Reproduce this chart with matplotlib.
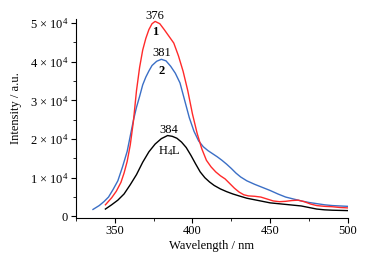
import matplotlib
matplotlib.use("Agg")
import matplotlib.pyplot as plt
from matplotlib.ticker import MultipleLocator

plt.rcParams['font.family'] = ['Liberation Serif', 'DejaVu Serif']
plt.rcParams['mathtext.fontset'] = 'custom'
plt.rcParams['mathtext.rm'] = 'Liberation Serif'
plt.rcParams['mathtext.it'] = 'Liberation Serif:italic'
plt.rcParams['mathtext.bf'] = 'Liberation Serif:bold'

# Series 1 (red)
w1 = [344, 348, 351, 354, 356, 358, 360, 362, 364, 366, 368, 370, 372, 374, 376, 379, 382, 385, 388, 391, 394,
      397, 400, 403, 406, 409, 412, 415, 418, 421, 424, 427, 430, 433, 436, 440, 444, 448, 452, 456, 460,
      464, 468, 472, 476, 480, 485, 490, 495, 500]
i1 = [0.30, 0.48, 0.65, 0.88, 1.12, 1.42, 1.85, 2.45, 3.25, 3.85, 4.30, 4.60, 4.83, 4.98, 5.04, 4.98, 4.82, 4.65, 4.48, 4.15, 3.75,
      3.25, 2.65, 2.15, 1.75, 1.45, 1.28, 1.15, 1.05, 0.97, 0.85, 0.73, 0.63, 0.56, 0.53, 0.52, 0.50, 0.45, 0.40, 0.38, 0.39,
      0.41, 0.42, 0.38, 0.32, 0.28, 0.26, 0.25, 0.23, 0.22]

# Series 2 (blue)
w2 = [336, 340, 343, 346, 349, 352, 355, 358, 360, 362, 364, 366, 368, 370, 372, 374, 377, 380, 383, 386, 389, 392, 395,
      398, 401, 404, 407, 410, 413, 416, 419, 422, 425, 428, 431, 435, 440, 445, 450, 455, 460, 465,
      470, 475, 480, 485, 490, 495, 500]
i2 = [0.18, 0.28, 0.38, 0.50, 0.70, 0.92, 1.28, 1.68, 2.08, 2.48, 2.82, 3.10, 3.40, 3.60, 3.76, 3.90, 4.01, 4.06, 4.02, 3.88, 3.70, 3.45, 3.00,
      2.55, 2.20, 1.95, 1.80, 1.70, 1.62, 1.54, 1.45, 1.35, 1.24, 1.12, 1.02, 0.92, 0.83, 0.75, 0.67, 0.58, 0.50, 0.45,
      0.40, 0.36, 0.33, 0.30, 0.28, 0.27, 0.26]

# H4L (black)
w3 = [344, 348, 352, 356, 360, 364, 368, 372, 376, 380, 384, 387, 390, 393, 396, 399, 402, 405, 408, 411,
      414, 418, 422, 426, 430, 435, 440, 445, 450, 455, 460, 465, 470, 475, 480, 485, 490, 500]
i3 = [0.19, 0.30, 0.42, 0.58, 0.82, 1.08, 1.40, 1.67, 1.87, 2.01, 2.09, 2.07, 2.02, 1.92, 1.78, 1.58, 1.36, 1.15, 1.00, 0.89,
      0.80, 0.71, 0.64, 0.58, 0.53, 0.47, 0.43, 0.39, 0.35, 0.33, 0.31, 0.29, 0.27, 0.23, 0.19, 0.17, 0.16, 0.15]

scale = 1e4
yticks = [0, 1, 2, 3, 4, 5]
ytick_labels = ['0', '1 × 10$^{4}$', '2 × 10$^{4}$', '3 × 10$^{4}$', '4 × 10$^{4}$', '5 × 10$^{4}$']
xticks = [350, 400, 450, 500]

fig = plt.figure(figsize=(3.72, 2.65), dpi=100)
ax = fig.add_axes([0.204, 0.179, 0.731, 0.749])

ax.plot(w2, [v * scale for v in i2], color='#3b6fc6', lw=1.0)
ax.plot(w3, [v * scale for v in i3], color='black', lw=1.0)
ax.plot(w1, [v * scale for v in i1], color='#ff2a2a', lw=1.0)

ax.set_xlim(325, 500)
ax.set_ylim(-0.03 * scale, 5.1 * scale)
ax.set_xticks(xticks)
ax.xaxis.set_minor_locator(MultipleLocator(25))
ax.set_yticks([v * scale for v in yticks])
ax.set_yticklabels(ytick_labels)
ax.yaxis.set_minor_locator(MultipleLocator(0.5 * scale))

for s in ['top', 'right']:
    ax.spines[s].set_visible(False)
ax.tick_params(which='major', direction='out', length=3.5, width=0.8, labelsize=9, pad=2)
ax.tick_params(which='minor', direction='out', length=2, width=0.6)

ax.set_xlabel('Wavelength / nm', fontsize=9, labelpad=2)
ax.set_ylabel('Intensity / a.u.', fontsize=9)
ax.yaxis.set_label_coords(-0.199, 0.554)

ax.text(375.8, 5.19 * scale, '376', ha='center', va='center', fontsize=9)
ax.text(375.8, 4.76 * scale, '1', ha='center', va='center', fontsize=9, fontweight='bold')
ax.text(380.1, 4.23 * scale, '381', ha='center', va='center', fontsize=9)
ax.text(380.1, 3.76 * scale, '2', ha='center', va='center', fontsize=9, fontweight='bold')
ax.text(384.8, 2.24 * scale, '384', ha='center', va='center', fontsize=9)
ax.text(384.8, 1.69 * scale, 'H$_{4}$L', ha='center', va='center', fontsize=9)

fig.savefig('out.png', dpi=100)
